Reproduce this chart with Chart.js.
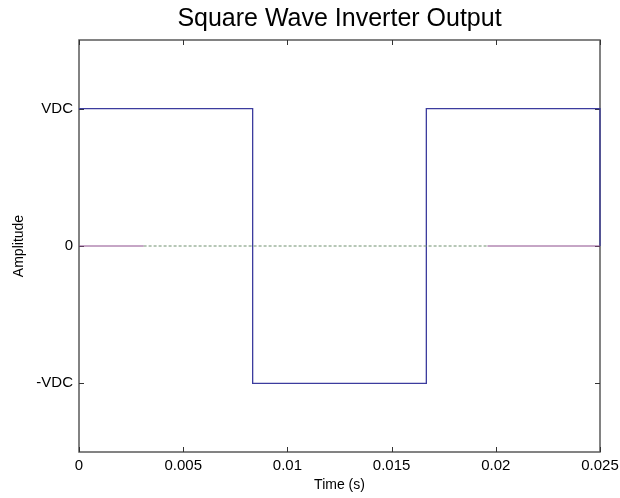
<!DOCTYPE html>
<html>
<head>
<meta charset="utf-8">
<script src="https://cdn.jsdelivr.net/npm/chart.js@4"></script>
<style>
  html, body { margin: 0; padding: 0; background: #fff; }
  #wrap { width: 620px; height: 498px; }
</style>
</head>
<body>
<div id="wrap"><canvas id="grafico" width="620" height="498"></canvas></div>
<script>
// square wave, 60 Hz, one and a half cycles
const waveTime = [0, 0.008333, 0.008333, 0.016667, 0.016667, 0.025, 0.025];
const waveAmp = [1, 1, -1, -1, 1, 1, 0];

// zero reference: solid ends, dashed middle
const zeroSolidTime = [0, 0.0031, 0.0031, 0.0196, 0.025];
const zeroSolidAmp = [0, 0, null, 0, 0];
const zeroDashTime = [0.0031, 0.0196];
const zeroDashAmp = [0, 0];

const xTicks = [0, 0.005, 0.01, 0.015, 0.02, 0.025];
const xTickLabels = ['0', '0.005', '0.01', '0.015', '0.02', '0.025'];
const yTicks = [-1, 0, 1];
const yTickLabels = ['-VDC', '0', 'VDC'];

const fuente = 'Liberation Sans, Arial, sans-serif';

function puntos(xs, ys) {
  return xs.map((x, i) => ({ x: x, y: ys[i] }));
}

// box with inward ticks on all four sides, under the lines
const marco = {
  id: 'marco',
  beforeDatasetsDraw(chart) {
    const { ctx, chartArea: a, scales } = chart;
    const len = 5;
    ctx.save();
    ctx.strokeStyle = '#5a5a5a';
    ctx.lineWidth = 1.5;
    ctx.strokeRect(a.left, a.top, a.right - a.left, a.bottom - a.top);
    ctx.lineWidth = 1;
    ctx.strokeStyle = '#333';
    ctx.beginPath();
    xTicks.forEach(v => {
      const px = Math.round(scales.x.getPixelForValue(v)) + 0.5;
      ctx.moveTo(px, a.bottom); ctx.lineTo(px, a.bottom - len);
      ctx.moveTo(px, a.top); ctx.lineTo(px, a.top + len);
    });
    yTicks.forEach(v => {
      const py = Math.round(scales.y.getPixelForValue(v)) + 0.5;
      ctx.moveTo(a.left, py); ctx.lineTo(a.left + len, py);
      ctx.moveTo(a.right, py); ctx.lineTo(a.right - len, py);
    });
    ctx.stroke();
    ctx.restore();
  }
};

const ctx = document.getElementById('grafico').getContext('2d');
new Chart(ctx, {
  type: 'scatter',
  data: {
    datasets: [
      {
        data: puntos(zeroSolidTime, zeroSolidAmp),
        showLine: true,
        spanGaps: false,
        borderColor: '#8c4c8c',
        borderWidth: 1,
        pointRadius: 0
      },
      {
        data: puntos(zeroDashTime, zeroDashAmp),
        showLine: true,
        borderColor: '#6f8f6f',
        borderWidth: 1,
        borderDash: [3, 2],
        pointRadius: 0
      },
      {
        data: puntos(waveTime, waveAmp),
        showLine: true,
        borderColor: '#3c3c9e',
        borderWidth: 1.3,
        pointRadius: 0,
        clip: 2
      }
    ]
  },
  options: {
    responsive: false,
    animation: false,
    layout: { padding: { left: 0, right: 20, top: 0, bottom: 0 } },
    plugins: {
      legend: { display: false },
      tooltip: { enabled: false },
      title: {
        display: true,
        text: 'Square Wave Inverter Output',
        fullSize: false,
        color: '#000',
        font: { family: fuente, size: 25, weight: 'normal' },
        padding: { top: 4, bottom: 6 }
      }
    },
    scales: {
      x: {
        type: 'linear',
        min: 0,
        max: 0.025,
        grid: { display: false, drawTicks: false },
        border: { display: false },
        afterBuildTicks: s => { s.ticks = xTicks.map(v => ({ value: v })); },
        afterFit: s => { s.height = 46; s.paddingLeft = 0; s.paddingRight = 0; },
        ticks: {
          color: '#000',
          padding: 5,
          maxRotation: 0,
          font: { family: fuente, size: 15 },
          callback: (v, i) => xTickLabels[i]
        },
        title: {
          display: true,
          text: 'Time (s)',
          color: '#000',
          font: { family: fuente, size: 14 },
          padding: { top: 0, bottom: 4 }
        }
      },
      y: {
        type: 'linear',
        min: -1.5,
        max: 1.5,
        grid: { display: false, drawTicks: false },
        border: { display: false },
        afterBuildTicks: s => { s.ticks = yTicks.map(v => ({ value: v })); },
        afterFit: s => { s.width = 79; s.paddingTop = 0; s.paddingBottom = 0; },
        ticks: {
          color: '#000',
          padding: 6,
          font: { family: fuente, size: 15 },
          callback: (v, i) => yTickLabels[i]
        },
        title: {
          display: true,
          text: 'Amplitude',
          color: '#000',
          font: { family: fuente, size: 14 },
          padding: { top: 11, bottom: 0 }
        }
      }
    }
  },
  plugins: [marco]
});
</script>
</body>
</html>
